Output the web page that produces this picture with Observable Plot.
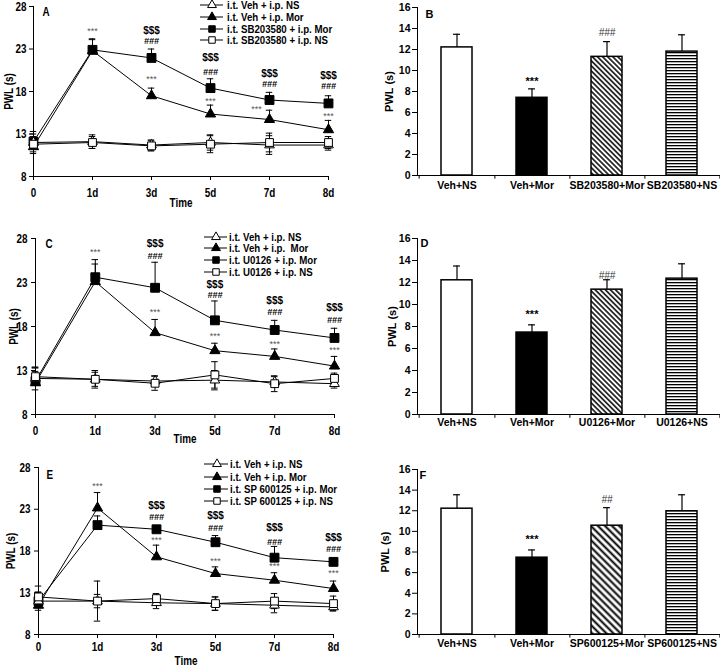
<!DOCTYPE html>
<html><head><meta charset="utf-8">
<script src="https://cdn.jsdelivr.net/npm/d3@7"></script>
<script src="https://cdn.jsdelivr.net/npm/@observablehq/plot@0.6"></script>
<style>
body{margin:0;background:#fff}
#fig{position:relative;width:720px;height:666px;overflow:hidden;background:#fff}
#fig svg{position:absolute;overflow:visible}
</style></head><body><div id="fig"></div>
<script>
// ---------- shared ----------
const times = ["0","1d","3d","5d","7d","8d"];

// ---------- Panel A (SB203580) ----------
const legendA = ["i.t. Veh + i.p. NS","i.t. Veh + i.p. Mor","i.t. SB203580 + i.p. Mor","i.t. SB203580 + i.p. NS"];
const aVehNS     = [12.0, 12.1, 11.7, 12.0, 11.7, 11.7];
const aVehNSErr  = [1.3, 0.8, 0.6, 0.9, 1.1, 0.6];
const aVehMor    = [11.5, 22.8, 17.5, 15.35, 14.7, 13.5];
const aVehMorErr = [0.9, 1.4, 0.9, 1.05, 1.1, 1.1];
const aDrugMor   = [12.1, 22.9, 21.95, 18.4, 17.0, 16.6];
const aDrugMorErr= [0.9, 1.2, 1.05, 1.1, 0.9, 0.9];
const aDrugNS    = [11.8, 12.0, 11.6, 11.8, 12.0, 12.0];
const aDrugNSErr = [0.9, 0.7, 0.6, 1.0, 1.1, 0.7];
const annA = [
  {t:1, y:25.1, s:"***"}, {t:2, y:25.2, s:"$$$"}, {t:2, y:23.9, s:"###"}, {t:2, y:19.4, s:"***"},
  {t:3, y:22.0, s:"$$$"}, {t:3, y:20.3, s:"###"}, {t:3, y:16.9, s:"***"},
  {t:4, y:20.1, s:"$$$"}, {t:4, y:18.9, s:"###"}, {t:3.78, y:15.9, s:"***"},
  {t:5, y:19.9, s:"$$$"}, {t:5, y:18.6, s:"###"}, {t:5, y:15.15, s:"***"}
];

// ---------- Panel B ----------
const catsB = ["Veh+NS","Veh+Mor","SB203580+Mor","SB203580+NS"];
const valsB = [12.2, 7.4, 11.3, 11.8];
const errsB = [1.25, 0.85, 1.45, 1.6];
const annB = [{c:"Veh+Mor", y:9.0, s:"***"}, {c:"SB203580+Mor", y:13.6, s:"###"}];

// ---------- Panel C (U0126) ----------
const legendC = ["i.t. Veh + i.p. NS","i.t. Veh + i.p.  Mor","i.t. U0126 + i.p. Mor","i.t. U0126 + i.p. NS"];
const cVehNS     = [12.1, 12.0, 11.8, 11.9, 11.7, 11.5];
const cVehNSErr  = [1.3, 0.8, 0.6, 1.1, 0.6, 0.5];
const cVehMor    = [11.6, 23.1, 17.3, 15.25, 14.6, 13.5];
const cVehMorErr = [1.3, 2.0, 1.5, 0.85, 0.85, 1.1];
const cDrugMor   = [11.8, 23.6, 22.4, 18.7, 17.6, 16.7];
const cDrugMorErr= [1.5, 2.0, 2.9, 2.2, 1.1, 1.1];
const cDrugNS    = [12.3, 12.0, 11.55, 12.5, 11.5, 12.1];
const cDrugNSErr = [1.0, 1.0, 0.8, 1.5, 0.9, 0.6];
const annC = [
  {t:1, y:26.5, s:"***"}, {t:2, y:27.4, s:"$$$"}, {t:2, y:26.0, s:"###"}, {t:2, y:19.6, s:"***"},
  {t:3, y:22.7, s:"$$$"}, {t:3, y:21.6, s:"###"}, {t:3, y:16.9, s:"***"},
  {t:4, y:20.9, s:"$$$"}, {t:4, y:19.6, s:"###"}, {t:4, y:16.0, s:"***"},
  {t:5, y:20.1, s:"$$$"}, {t:5, y:18.7, s:"###"}, {t:5, y:15.3, s:"***"}
];

// ---------- Panel D ----------
const catsD = ["Veh+NS","Veh+Mor","U0126+Mor","U0126+NS"];
const valsD = [12.2, 7.45, 11.35, 12.35];
const errsD = [1.3, 0.7, 0.9, 1.35];
const annD = [{c:"Veh+Mor", y:9.1, s:"***"}, {c:"U0126+Mor", y:12.65, s:"###"}];

// ---------- Panel E (SP600125) ----------
const legendE = ["i.t. Veh + i.p. NS","i.t. Veh + i.p. Mor","i.t. SP 600125 + i.p. Mor","i.t. SP 600125 + i.p. NS"];
const eVehNS     = [12.0, 12.0, 11.8, 11.7, 11.5, 11.3];
const eVehNSErr  = [1.1, 0.8, 0.7, 0.8, 0.9, 0.4];
const eVehMor    = [11.5, 23.15, 17.3, 15.3, 14.5, 13.5];
const eVehMorErr = [1.0, 1.85, 1.4, 0.8, 0.9, 0.9];
const eDrugMor   = [12.0, 21.1, 20.6, 19.05, 17.2, 16.7];
const eDrugMorErr= [1.0, 1.1, 0.3, 0.8, 1.35, 0.3];
const eDrugNS    = [12.5, 12.0, 12.3, 11.7, 12.0, 11.7];
const eDrugNSErr = [1.3, 2.4, 0.6, 0.8, 0.9, 0.9];
const annE = [
  {t:1, y:25.8, s:"***"}, {t:2, y:23.4, s:"$$$"}, {t:2, y:22.0, s:"###"}, {t:2, y:19.3, s:"***"},
  {t:3, y:22.2, s:"$$$"}, {t:3, y:20.8, s:"###"}, {t:3, y:16.8, s:"***"},
  {t:4, y:20.8, s:"$$$"}, {t:4, y:19.05, s:"###"}, {t:4, y:16.2, s:"***"},
  {t:5, y:19.6, s:"$$$"}, {t:5, y:18.2, s:"###"}, {t:5, y:15.3, s:"***"}
];

// ---------- Panel F ----------
const catsF = ["Veh+NS","Veh+Mor","SP600125+Mor","SP600125+NS"];
const valsF = [12.2, 7.45, 10.55, 11.95];
const errsF = [1.35, 0.75, 1.75, 1.6];
const annF = [{c:"Veh+Mor", y:9.2, s:"***"}, {c:"SP600125+Mor", y:13.05, s:"##"}];

// ---------- drawing ----------
const FONT = "'Liberation Sans',Arial,sans-serif";
const SQUEEZE = 0.76;
const fig = document.getElementById("fig");

// series styles: open triangle, filled triangle, filled square, open square
const seriesStyle = [
  {symbol:"triangle", fill:"white", r:3.6, open:true},
  {symbol:"triangle", fill:"black", r:3.8, open:false},
  {symbol:"square",   fill:"black", r:5.0, open:false},
  {symbol:"square",   fill:"white", r:4.4, open:true}
];

// horizontally condense the axis texts of a panel (the left panels use a narrow face)
function toPx(v, t) {
  if (v == null) return 0;
  v = String(v).trim();
  if (v.endsWith("em")) return parseFloat(v) * parseFloat(getComputedStyle(t).fontSize);
  return parseFloat(v) || 0;
}
function squeeze(svg, s) {
  svg.querySelectorAll("text").forEach(t => {
    if (/^[\$#\*]+$/.test(t.textContent.trim())) return;
    const x = toPx(t.getAttribute("x"), t), y = toPx(t.getAttribute("y"), t);
    const tr = t.getAttribute("transform") || "";
    t.removeAttribute("x"); t.removeAttribute("y");
    t.setAttribute("transform", `${tr} translate(${x},${y}) scale(${s},1)`);
  });
}

function linePanel(o) {
  const cap = 0.055;
  const marks = [];
  const all = o.series.map(([vals, errs], si) => vals.map((v, i) => ({i, v, e: errs[i], si, open: seriesStyle[si].open})));
  all.forEach(rows => marks.push(Plot.line(rows, {x:"i", y:"v", stroke:"black", strokeWidth:1})));
  all.forEach(rows => {
    marks.push(Plot.ruleX(rows, {x:"i", y1: d => d.open ? d.v - d.e : d.v, y2: d => d.v + d.e, stroke:"black", strokeWidth:1}));
    marks.push(Plot.ruleY(rows, {y: d => d.v + d.e, x1: d => d.i - cap, x2: d => d.i + cap, stroke:"black", strokeWidth:1}));
    marks.push(Plot.ruleY(rows.filter(d => d.open), {y: d => d.v - d.e, x1: d => d.i - cap, x2: d => d.i + cap, stroke:"black", strokeWidth:1}));
  });
  [1,2,0,3].forEach(si => {
    const st = seriesStyle[si];
    marks.push(Plot.dot(all[si], {x:"i", y:"v", symbol: st.symbol, r: st.r, fill: st.fill, stroke:"black", strokeWidth:1}));
  });
  marks.push(Plot.text(o.ann.filter(d => d.s === "***"), {x:"t", y:"y", text:"s", fontSize:9, fontWeight:"normal", fill:"#555"}));
  marks.push(Plot.text(o.ann.filter(d => d.s === "$$$"), {x:"t", y:"y", text:"s", fontSize:10, fontWeight:"bold"}));
  marks.push(Plot.text(o.ann.filter(d => d.s === "###"), {x:"t", y:"y", text:"s", fontSize:9, fontWeight:"bold", fontStyle:"italic"}));
  marks.push(Plot.text(["Time"], {frameAnchor:"bottom", dy:o.timeDy, lineAnchor:"middle", fontSize:13, fontWeight:"bold"}));
  marks.push(Plot.text(["PWL (s)"], {frameAnchor:"left", dx:o.pwlDx, rotate:-90, textAnchor:"middle", lineAnchor:"middle", fontSize:13, fontWeight:"bold"}));
  marks.push(Plot.text([o.letter], {frameAnchor:"top-left", dx:o.letterDx, dy:o.letterDy, fontSize:13, fontWeight:"bold"}));
  const svg = Plot.plot({
    width:360, height:o.height,
    marginLeft:o.mL, marginRight:o.mR, marginTop:o.mT, marginBottom:o.mB,
    style:{fontFamily:FONT, fontWeight:"bold", fontSize:"13px", color:"black", overflow:"visible"},
    x:{type:"linear", domain:[0,5], ticks:[0,1,2,3,4,5], tickFormat: i => times[i], tickSize:4, tickPadding:o.xPad, label:null, line:true},
    y:{domain:[8,28], ticks:[8,13,18,23,28], tickSize:4, tickPadding:o.yPad, label:null, line:true},
    marks
  });
  svg.style.left = "0px"; svg.style.top = o.top + "px";
  fig.appendChild(svg);
  squeeze(svg, SQUEEZE);
  // legend
  const g = d3.select(svg).append("g").attr("font-family", FONT).attr("font-weight","bold").attr("font-size", 11).attr("text-anchor","start");
  o.legend.forEach((lab, k) => {
    const y = o.L.ys[k], st = seriesStyle[k];
    g.append("line").attr("x1", o.L.x0).attr("x2", o.L.x1).attr("y1", y).attr("y2", y).attr("stroke","black");
    const sym = st.symbol === "triangle" ? d3.symbolTriangle : d3.symbolSquare;
    g.append("path").attr("d", d3.symbol(sym, st.symbol === "triangle" ? 34 : 42)())
      .attr("transform", `translate(${o.L.xm},${y})`).attr("fill", st.fill).attr("stroke","black");
    g.append("text").attr("transform", `translate(${o.L.xt},${y}) scale(0.88,1)`).attr("dy","0.36em").text(lab);
  });
}

function barPanel(o) {
  const rows = o.cats.map((c, i) => ({c, v:o.vals[i], e:o.errs[i]}));
  const fills = ["white", "black", `url(#diag-${o.id})`, `url(#horiz-${o.id})`];
  const mL = 57, mR = 0;
  const step = (360 - mL - mR) / o.cats.length;
  const bw = step * 0.41;
  const marks = [
    ...rows.map((r, k) => Plot.barY([r], {x:"c", y:"v", fill: fills[k], stroke:"black", strokeWidth:1.5})),
    Plot.ruleX(rows, {x:"c", y1:"v", y2: d => d.v + d.e, stroke:"black", strokeWidth:1.2}),
    Plot.tickY(rows, {x:"c", y: d => d.v + d.e, insetLeft:(bw-7)/2, insetRight:(bw-7)/2, stroke:"black", strokeWidth:1.2}),
    Plot.ruleX(o.cats, {x: d => d, y1:0, y2:-0.35, dx: step/2, stroke:"black"}),
    Plot.ruleX(o.cats.slice(0,1), {x: d => d, y1:0, y2:-0.35, dx: -step/2, stroke:"black"}),
    Plot.text(o.ann.filter(d => d.s === "***"), {x:"c", y:"y", text:"s", fontSize:11, fontWeight:"bold"}),
    Plot.text(o.ann.filter(d => d.s !== "***"), {x:"c", y:"y", text:"s", fontSize:10, fontWeight:"normal", fontStyle:"italic", fill:"#333"}),
    Plot.text(["PWL (s)"], {frameAnchor:"left", dx:o.pwlDx, rotate:-90, textAnchor:"middle", lineAnchor:"middle", fontSize:11, fontWeight:"bold"}),
    Plot.text([o.letter], {frameAnchor:"top-left", dx:o.letterDx, dy:o.letterDy, fontSize:11, fontWeight:"bold"})
  ];
  const svg = Plot.plot({
    width:360, height:o.height,
    marginLeft:mL, marginRight:mR, marginTop:o.mT, marginBottom:o.mB,
    style:{fontFamily:FONT, fontWeight:"bold", fontSize:"10.5px", color:"black", overflow:"visible"},
    x:{type:"band", domain:o.cats, paddingInner:0.59, paddingOuter:0.295, tickSize:0, tickPadding:o.xPad, label:null, line:true},
    y:{domain:[0,16], ticks:d3.range(0,17,2), tickSize:5, tickPadding:2, label:null, line:true},
    marks
  });
  svg.style.left = "360px"; svg.style.top = o.top + "px";
  const dp = o.diagGap, dw = o.diagW;
  d3.select(svg).insert("defs", ":first-child").html(
    `<pattern id="diag-${o.id}" patternUnits="userSpaceOnUse" width="${dp}" height="${dp}" patternTransform="rotate(-45)">` +
    `<rect width="${dp}" height="${dp}" fill="white"/><line x1="${dp/2}" y1="0" x2="${dp/2}" y2="${dp}" stroke="black" stroke-width="${dw}"/></pattern>` +
    `<pattern id="horiz-${o.id}" patternUnits="userSpaceOnUse" width="4" height="3">` +
    `<rect width="4" height="3" fill="white"/><rect y="1" width="4" height="1.3" fill="black"/></pattern>`
  );
  fig.appendChild(svg);
}

linePanel({
  top:0, height:215, mL:33, mR:32, mT:6, mB:39, xPad:7, yPad:3,
  series:[[aVehNS,aVehNSErr],[aVehMor,aVehMorErr],[aDrugMor,aDrugMorErr],[aDrugNS,aDrugNSErr]],
  ann:annA, legend:legendA, letter:"A", letterDx:9, letterDy:0,
  timeDy:26, pwlDx:-25,
  L:{x0:200, x1:223, xm:212, xt:227, ys:[5,17,29,40]}
});
linePanel({
  top:215, height:228, mL:35, mR:26, mT:23, mB:29, xPad:7, yPad:4,
  series:[[cVehNS,cVehNSErr],[cVehMor,cVehMorErr],[cDrugMor,cDrugMorErr],[cDrugNS,cDrugNSErr]],
  ann:annC, legend:legendC, letter:"C", letterDx:10, letterDy:0,
  timeDy:24, pwlDx:-22,
  L:{x0:204, x1:227, xm:216, xt:229, ys:[22,33,45,57]}
});
linePanel({
  top:440, height:226, mL:38, mR:27, mT:27, mB:32, xPad:3, yPad:4,
  series:[[eVehNS,eVehNSErr],[eVehMor,eVehMorErr],[eDrugMor,eDrugMorErr],[eDrugNS,eDrugNSErr]],
  ann:annE, legend:legendE, letter:"E", letterDx:8, letterDy:2,
  timeDy:26, pwlDx:-28,
  L:{x0:204, x1:228, xm:217, xt:230, ys:[24,37,49,61]}
});
barPanel({id:"B", top:0, height:215, mT:7, mB:40, xPad:6, cats:catsB, vals:valsB, errs:errsB, ann:annB,
  letter:"B", letterDx:8, letterDy:3, pwlDx:-28, diagGap:3.6, diagW:1.5});
barPanel({id:"D", top:215, height:228, mT:23, mB:29, xPad:4, cats:catsD, vals:valsD, errs:errsD, ann:annD,
  letter:"D", letterDx:3, letterDy:1, pwlDx:-25, diagGap:3.6, diagW:1.5});
barPanel({id:"F", top:440, height:226, mT:29, mB:32, xPad:5, cats:catsF, vals:valsF, errs:errsF, ann:annF,
  letter:"F", letterDx:2, letterDy:2, pwlDx:-32, diagGap:5, diagW:2});
</script></body></html>
